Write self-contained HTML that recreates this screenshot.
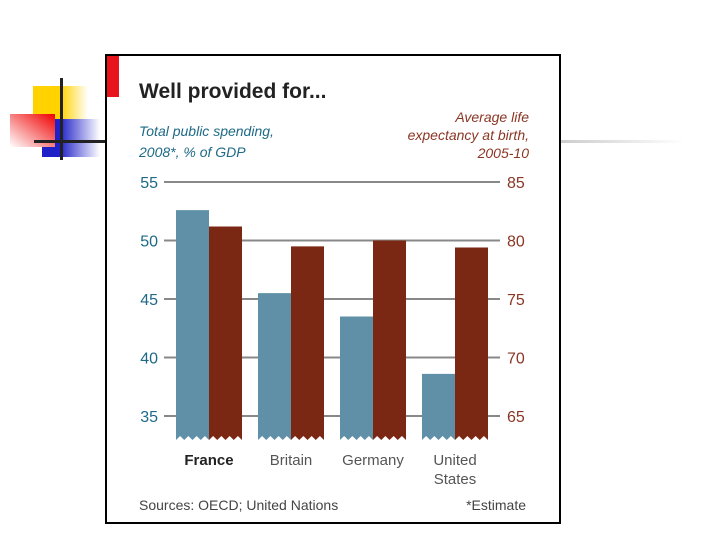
<!DOCTYPE html>
<html><head><meta charset="utf-8"><style>
body{margin:0;width:720px;height:540px;background:#fff;overflow:hidden;font-family:"Liberation Sans","DejaVu Sans",sans-serif}
</style></head><body>
<svg width="720" height="540">
<defs>
<linearGradient id="gy" x1="0" x2="1"><stop offset="0.5" stop-color="#ffd200"/><stop offset="1" stop-color="#fff"/></linearGradient>
<linearGradient id="gr" x1="1" y1="0" x2="0" y2="1"><stop offset="0" stop-color="#f00000"/><stop offset="1" stop-color="#fff"/></linearGradient>
<linearGradient id="gb" x1="0" x2="1"><stop offset="0.3" stop-color="#2020c8"/><stop offset="1" stop-color="#fff"/></linearGradient>
<linearGradient id="gl" x1="0" x2="1"><stop offset="0" stop-color="#ccc"/><stop offset="1" stop-color="#fff"/></linearGradient>
</defs>
<g>
<rect x="33" y="86" width="55" height="33" fill="url(#gy)"/>
<rect x="42" y="119" width="58" height="38" fill="url(#gb)"/>
<rect x="10" y="114" width="45" height="33" fill="url(#gr)"/>
<rect x="60" y="78" width="3" height="82" fill="#222"/>
<rect x="34" y="140" width="72" height="3" fill="#222"/>
<rect x="560" y="140" width="125" height="3" fill="url(#gl)"/>
</g>
<rect x="106" y="55" width="454" height="468" fill="#fff" stroke="#000" stroke-width="2"/>
<rect x="107" y="56" width="12" height="41" fill="#e8141c"/>
<text x="139" y="98" font-size="21" font-weight="bold" fill="#222">Well provided for...</text>
<g font-style="italic" font-size="14">
<text x="139" y="136" fill="#1e6a86">Total public spending,</text>
<text x="139" y="157" fill="#1e6a86">2008*, % of GDP</text>
<text x="529" y="122" text-anchor="end" fill="#8b3624">Average life</text>
<text x="529" y="140" text-anchor="end" fill="#8b3624">expectancy at birth,</text>
<text x="529" y="158" text-anchor="end" fill="#8b3624">2005-10</text>
</g>
<g id="grid"></g><g id="bars"></g><g id="labels"></g>
<text x="139" y="510" font-size="14" fill="#444">Sources: OECD; United Nations</text>
<text x="526" y="510" font-size="14" fill="#444" text-anchor="end">*Estimate</text>
</svg>
<script>
const categories=["France","Britain","Germany","United States"];
const spending=[52.6,45.5,43.5,38.6];
const lifeExp=[81.2,79.5,80.0,79.4];
const leftTicks=[35,40,45,50,55];
const rightTicks=[65,70,75,80,85];
const NS="http://www.w3.org/2000/svg";
function el(t,a,p){const e=document.createElementNS(NS,t);for(const k in a)e.setAttribute(k,a[k]);p.appendChild(e);return e;}
const yL=v=>182+(55-v)*11.7, yR=v=>182+(85-v)*11.7;
const base=440;
const grid=document.getElementById('grid');
leftTicks.forEach((t,i)=>{
 const y=yL(t);
 const l=el('line',{x1:164,x2:500,y1:y,y2:y,stroke:'#888','stroke-width':2},grid);
 
 
 const a=el('text',{x:158,y:y+6,'font-size':16,fill:'#1e6a86','text-anchor':'end'},grid);a.textContent=t;
 
 
 const b=el('text',{x:507,y:y+6,'font-size':16,fill:'#8b3624'},grid);b.textContent=rightTicks[i];
 
 
});
const bars=document.getElementById('bars'),labels=document.getElementById('labels');
function zig(x,w){let d='';const n=4,s=w/n;for(let i=n;i>0;i--){d+=` L${x+i*s-s/2},${base-4} L${x+(i-1)*s},${base}`;}return d;}
categories.forEach((c,i)=>{
 const x0=176+i*82,w=33;
 const yb=yL(spending[i]);
 const b1=el('path',{d:`M${x0},${yb} L${x0+w},${yb} L${x0+w},${base}`+zig(x0,w)+' Z',fill:'#5f90a8'},bars);
 
 
 const x1=x0+w,yr=yR(lifeExp[i]);
 const b2=el('path',{d:`M${x1},${yr} L${x1+w},${yr} L${x1+w},${base}`+zig(x1,w)+' Z',fill:'#7a2714'},bars);
 
 
 const words=c==="United States"?["United","States"]:[c];
 words.forEach((wd,j)=>{
  const t=el('text',{x:x0+w,y:465+j*19,'font-size':15,fill:i===0?'#222':'#555','font-weight':i===0?'bold':'normal','text-anchor':'middle'},labels);
  t.textContent=wd;
  
  
 });
});
</script>
</body></html>
